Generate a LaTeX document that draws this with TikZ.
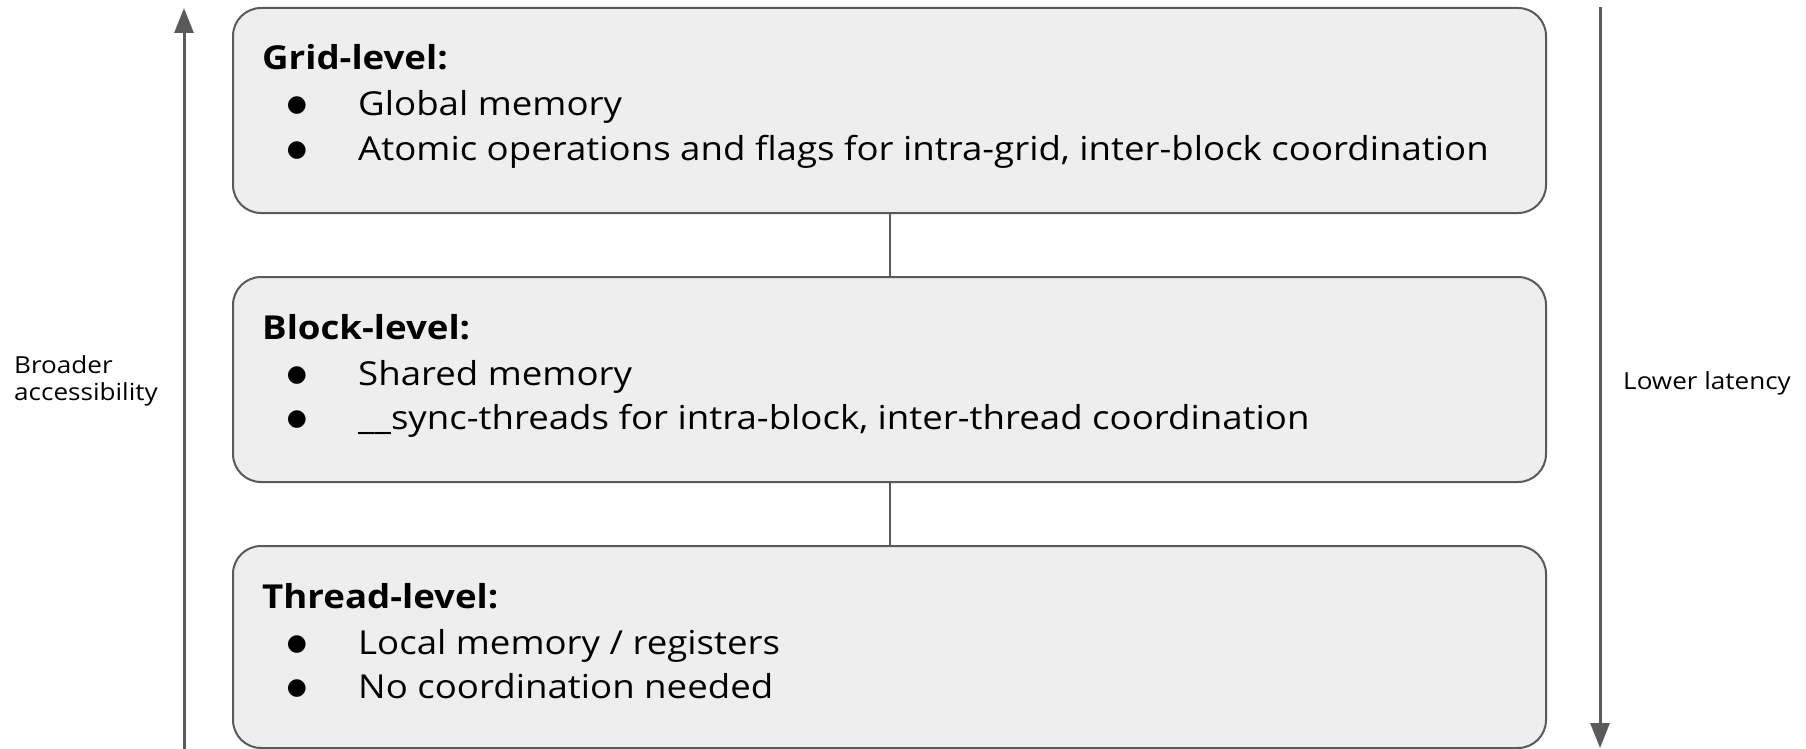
\documentclass[tikz,border=0pt]{standalone}
\usepackage{fontspec}
\setmainfont{Open Sans}[FakeStretch=1.11]
\newfontfamily\symfont{DejaVu Sans}
\usetikzlibrary{arrows.meta}
\definecolor{boxfill}{HTML}{EEEEEE}
\definecolor{edge}{HTML}{5A5A5A}
\begin{document}
\begin{tikzpicture}[x=1pt,y=-1pt,
 level/.style={draw=edge, line width=2pt, fill=boxfill, rounded corners=28pt, minimum width=1313pt, minimum height=205pt, inner sep=0pt},
 title/.style={anchor=base west, inner sep=0pt, font=\fontsize{33}{40}\selectfont\bfseries},
 item/.style={anchor=base west, inner sep=0pt, font=\fontsize{33}{38}\selectfont},
 dot/.style={anchor=base, inner sep=0pt, font=\fontsize{23}{28}\selectfont\symfont},
 side/.style={anchor=base west, inner sep=0pt, font=\fontsize{23.5}{27}\selectfont},
 axis/.style={draw=edge, line width=3pt, -{Triangle[length=25pt,width=19pt]}},
 link/.style={draw=edge, line width=2pt}]
\useasboundingbox (0,0) rectangle (1806,749);
\node[level] (g) at (889.5,110.5) {};
\node[level] (b) at (889.5,379.5) {};
\node[level, minimum height=202pt] (t) at (889.5,647) {};
\draw[link] (g.south) -- (b.north);
\draw[link] (b.south) -- (t.north);
% grid
\node[title] (gt) at ([shift={(30,63)}]g.north west) {Grid-level:};
\node[dot] (gd1) at ([shift={(65,105)}]g.north west) {●};
\node[item] (gi1) at ([shift={(126,109)}]g.north west) {Global memory};
\node[dot] (gd2) at ([shift={(65,149)}]g.north west) {●};
\node[item] (gi2) at ([shift={(126,153)}]g.north west) {Atomic operations and flags for intra-grid, inter-block coordination};
% block
\node[title] (bt) at ([shift={(30,63)}]b.north west) {Block-level:};
\node[dot] (bd1) at ([shift={(65,105)}]b.north west) {●};
\node[item] (bi1) at ([shift={(126,109)}]b.north west) {Shared memory};
\node[dot] (bd2) at ([shift={(65,149)}]b.north west) {●};
\node[item] (bi2) at ([shift={(126,153)}]b.north west) {\_\_sync-threads for intra-block, inter-thread coordination};
% thread
\node[title] (tt) at ([shift={(30,63)}]t.north west) {Thread-level:};
\node[dot] (td1) at ([shift={(65,105)}]t.north west) {●};
\node[item] (ti1) at ([shift={(126,109)}]t.north west) {Local memory / registers};
\node[dot] (td2) at ([shift={(65,149)}]t.north west) {●};
\node[item] (ti2) at ([shift={(126,153)}]t.north west) {No coordination needed};
% side arrows
\coordinate (lb) at (184,749);
\coordinate (lt) at (184,8);
\draw[axis] (lb) -- (lt);
\coordinate (rt) at (1600,7);
\coordinate (rb) at (1600,748);
\draw[axis] (rt) -- (rb);
\node[side] (acc1) at (14,373) {Broader};
\node[side] (acc2) at (14,400) {accessibility};
\node[side] (lat) at (1623,389) {Lower latency};
\end{tikzpicture}
\end{document}
